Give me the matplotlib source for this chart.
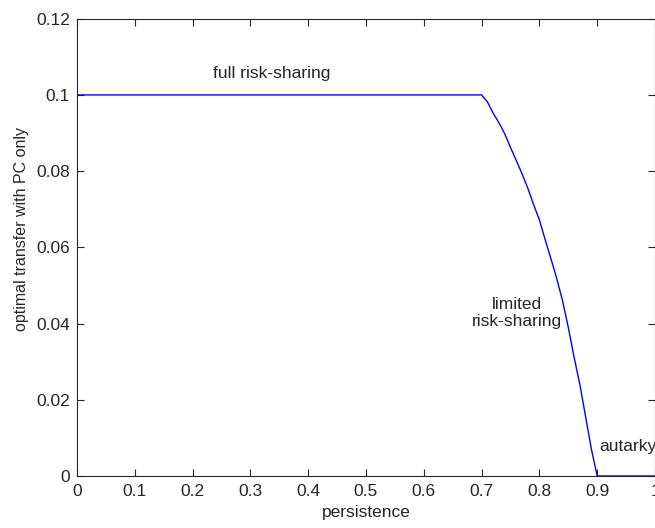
import matplotlib
matplotlib.use("Agg")
import matplotlib.pyplot as plt
import numpy as np

plt.rcParams['font.family'] = ['Liberation Sans', 'DejaVu Sans']

# data
persistence = [0.0, 0.70, 0.71, 0.72, 0.73, 0.74, 0.75, 0.76, 0.77, 0.78, 0.79,
               0.80, 0.81, 0.82, 0.83, 0.84, 0.85, 0.86, 0.87, 0.88, 0.89, 0.90, 1.0]
transfer = [0.1, 0.1, 0.0982, 0.0952, 0.0927, 0.0898, 0.0862, 0.0828, 0.0793, 0.0755, 0.0712,
            0.0672, 0.0620, 0.0570, 0.0518, 0.0460, 0.0390, 0.0312, 0.0240, 0.0155, 0.0070, 0.0, 0.0]
xticks = [0, 0.1, 0.2, 0.3, 0.4, 0.5, 0.6, 0.7, 0.8, 0.9, 1]
xticklabels = ['0', '0.1', '0.2', '0.3', '0.4', '0.5', '0.6', '0.7', '0.8', '0.9', '1']
yticks = [0, 0.02, 0.04, 0.06, 0.08, 0.1, 0.12]
yticklabels = ['0', '0.02', '0.04', '0.06', '0.08', '0.1', '0.12']

FS = 12.5
TC = '#262626'

fig = plt.figure(figsize=(6.55, 5.28), dpi=100)
ax = fig.add_axes([77/655, 52/528, 578/655, 457.3/528])
ax.plot(persistence, transfer, color='#0000ff', lw=1.0)
ax.set_xlim(0, 1)
ax.set_ylim(0, 0.12)
ax.set_xticks(xticks)
ax.set_xticklabels(xticklabels)
ax.set_yticks(yticks)
ax.set_yticklabels(yticklabels)
ax.tick_params(direction='in', length=5, width=0.8, top=True, right=True,
               labelsize=FS, colors=TC)
ax.tick_params(axis='x', pad=6)
ax.tick_params(axis='y', pad=5)
for s in ax.spines.values():
    s.set_color(TC)
    s.set_linewidth(0.8)
ax.set_xlabel('persistence', fontsize=FS, color=TC, labelpad=4)
ax.set_ylabel('optimal transfer with PC only', fontsize=11.5, color=TC)
ax.yaxis.label.set_rotation_mode('default')
ax.yaxis.label.set_verticalalignment('center')
ax.yaxis.set_label_coords((22 - 77) / 578, (476 - 229) / 457.3)

ax.text(0.236, 0.1055, 'full risk-sharing', fontsize=FS, color=TC, ha='left', va='center')
ax.text(0.7616, 0.0428, 'limited\nrisk-sharing', fontsize=FS, color=TC, ha='center', va='center',
        multialignment='center', linespacing=1.2)
ax.text(0.9028, 0.0077, 'autarky', fontsize=FS, color=TC, ha='left', va='center')

fig.savefig('out.png', dpi=100)
